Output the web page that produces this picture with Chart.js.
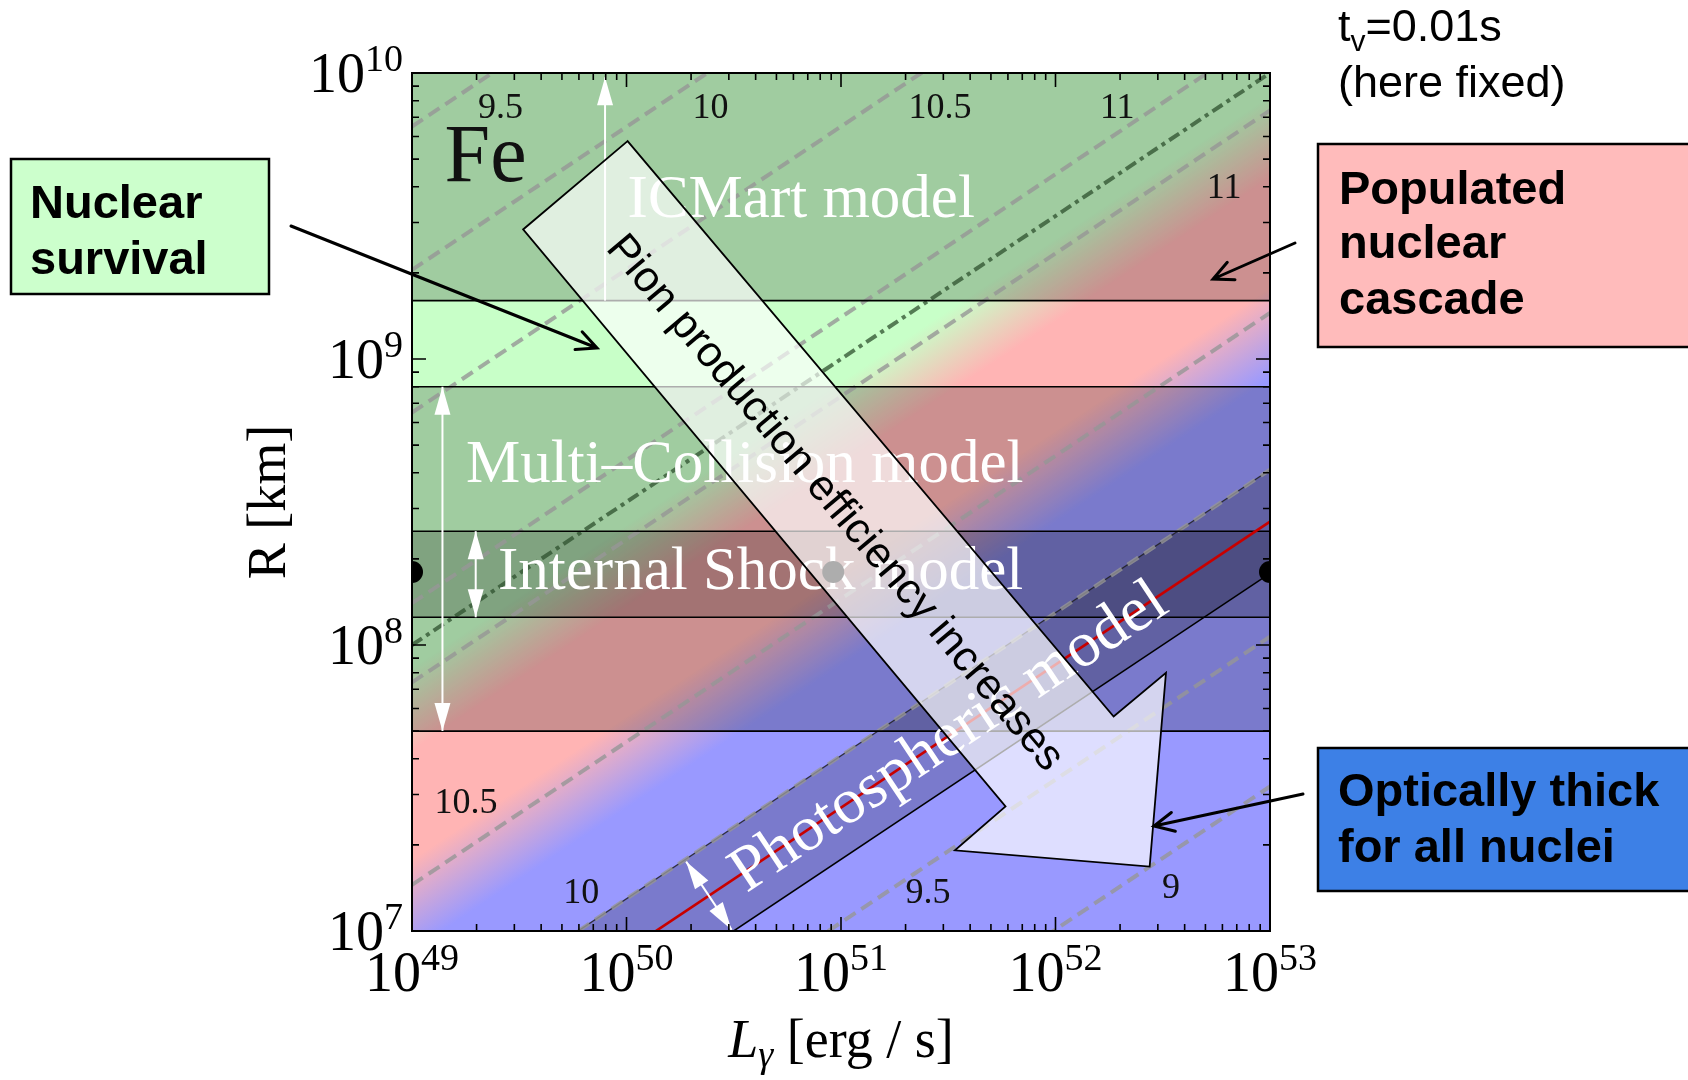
<!DOCTYPE html>
<html>
<head>
<meta charset="utf-8">
<title>Fe: nuclear survival vs. nuclear cascade</title>
<script src="https://cdn.jsdelivr.net/npm/chart.js@4.4.1/dist/chart.umd.min.js"></script>
<style>
  html, body { margin: 0; padding: 0; background: #ffffff; }
  canvas { display: block; }
</style>
</head>
<body>
<canvas id="radiusLuminosityChart" width="1688" height="1080"></canvas>
<script>
// Axes: luminosity L [erg/s] and radius R [km], both log
const luminosityRange = [1e49, 1e53];
const radiusRange = [1e7, 1e10];
const xTickExponents = [49, 50, 51, 52, 53];
const yTickExponents = [7, 8, 9, 10];

// dashed contours of log10(E_max); R where each meets L = 1e49 and L = 1e53
const contourLevels = ['9.5', '10', '10.5', '11', '11', '10.5', '10', '9.5', '9'];
const contourR49 = [6.5e9, 2.05e9, 6.5e8, 1.4e8, 7.4e7, 1.45e7, 4.1e6, 1.07e6, 3.2e5];
const contourR53 = [6.5e11, 2.05e11, 6.5e10, 1.4e10, 7.4e9, 1.45e9, 4.1e8, 1.07e8, 3.2e7];
// dash-dotted line (maximum)
const peakR = [1.0e8, 1.0e10];

// model regions in R: ICMart, Multi-Collision, Internal Shock
const modelBandLow = [1.6e9, 5e7, 1.25e8];
const modelBandHigh = [1e10, 8e8, 2.5e8];
const boundaryRadii = [5e7, 1.25e8, 2.5e8, 8e8, 1.6e9];

// photospheric band, R at L = 1e49 and 1e53
const photoUpperR = [4.1e6, 4.1e8];
const photoCenterR = [2.7e6, 2.7e8];
const photoLowerR = [1.78e6, 1.78e8];

// black markers
const markerL = [1e49, 9.2e50, 1e53];
const markerR = [1.8e8, 1.8e8, 1.8e8];

// colour of the regions (log10 R of the boundary line at L = 1e49, lines run as R ~ L^0.5)
const regionStops = [[7.92, 'rgb(200,255,200)'], [7.63, 'rgb(255,180,180)'], [7.25, 'rgb(255,180,180)'], [6.93, 'rgb(153,153,255)']];

// ---- annotation layout, in log10 L / log10 R ----
const contourTextSpots = [[49.413, 9.877], [50.392, 9.877], [51.461, 9.877], [52.288, 9.877],
  [52.786, 9.596], [49.252, 7.444], [49.789, 7.131], [51.406, 7.131], [52.538, 7.15]];
const modelLabels = [
  { text: 'ICMart model', l: 50.005, r: 9.552 },
  { text: 'Multi\u2013Collision model', l: 49.252, r: 8.626 },
  { text: 'Internal Shock model', l: 49.401, r: 8.252 }
];
const pionArrow = [[50.005, 9.762], [49.518, 9.453], [51.767, 7.436], [51.531, 7.282],
  [52.439, 7.225], [52.515, 7.903], [52.271, 7.750]];

// notes outside the plot, canvas pixels
const notes = [
  { lines: ['Nuclear', 'survival'], box: [11, 159, 258, 135], fill: '#ccffcc', tx: 30, base: [218, 274], arrow: [291, 226, 597, 348] },
  { lines: ['Populated', 'nuclear', 'cascade'], box: [1318, 144, 400, 203], fill: '#ffbbbb', tx: 1339, base: [204, 258, 314], arrow: [1295, 243, 1213, 279] },
  { lines: ['Optically thick', 'for all nuclei'], box: [1318, 748, 400, 143], fill: '#3d80e6', tx: 1338, base: [806, 862], arrow: [1303, 794, 1154, 826] }
];

const SERIF = '"Liberation Serif", "DejaVu Serif", serif';
const SANS = '"Liberation Sans", Arial, sans-serif';

const X = (chart, v) => chart.scales.x.getPixelForValue(v);
const Y = (chart, v) => chart.scales.y.getPixelForValue(v);
const XL = (chart, e) => X(chart, Math.pow(10, e));
const YL = (chart, e) => Y(chart, Math.pow(10, e));

function lineData(r49, r53) {
  return [{ x: luminosityRange[0], y: r49 }, { x: luminosityRange[1], y: r53 }];
}

function drawRegions(chart) {
  const { ctx, chartArea: a } = chart;
  const x49 = X(chart, 1e49);
  const s = (Y(chart, 1e8) - Y(chart, 1e9)) / (X(chart, 1e51) - X(chart, 1e49));
  const cOf = k => YL(chart, k) + s * x49;
  const kTop = regionStops[0][0], kBot = regionStops[regionStops.length - 1][0];
  const c0 = cOf(kTop), c1 = cOf(kBot), n = s * s + 1;
  const g = ctx.createLinearGradient(s * c0 / n, c0 / n, s * c1 / n, c1 / n);
  regionStops.forEach(([k, col]) => g.addColorStop((kTop - k) / (kTop - kBot), col));
  ctx.save();
  ctx.beginPath(); ctx.rect(a.left, a.top, a.width, a.height); ctx.clip();
  ctx.fillStyle = g;
  ctx.fillRect(a.left, a.top, a.width, a.height);
  ctx.fillStyle = 'rgba(0,0,0,0.2)';
  modelBandLow.forEach((lo, i) => {
    const yt = Y(chart, modelBandHigh[i]), yb = Y(chart, lo);
    ctx.fillRect(a.left, yt, a.width, yb - yt);
  });
  ctx.restore();
}

function arrowHead(ctx, xf, yf, xt, yt, len, half) {
  const ang = Math.atan2(yt - yf, xt - xf);
  const bx = xt - len * Math.cos(ang), by = yt - len * Math.sin(ang);
  ctx.beginPath();
  ctx.moveTo(xt, yt);
  ctx.lineTo(bx + half * Math.sin(ang), by - half * Math.cos(ang));
  ctx.lineTo(bx - half * Math.sin(ang), by + half * Math.cos(ang));
  ctx.closePath();
  ctx.fill();
}

function whiteArrow(ctx, x1, y1, x2, y2, both) {
  ctx.strokeStyle = '#ffffff'; ctx.fillStyle = '#ffffff'; ctx.lineWidth = 2;
  ctx.beginPath(); ctx.moveTo(x1, y1); ctx.lineTo(x2, y2); ctx.stroke();
  arrowHead(ctx, x1, y1, x2, y2, 28, 8);
  if (both) arrowHead(ctx, x2, y2, x1, y1, 28, 8);
}

function drawInnerLabels(chart) {
  const { ctx, chartArea: a } = chart;
  ctx.save();
  ctx.beginPath(); ctx.rect(a.left, a.top, a.width, a.height); ctx.clip();

  // contour level labels
  ctx.fillStyle = '#111'; ctx.font = '36px ' + SERIF;
  ctx.textAlign = 'center'; ctx.textBaseline = 'middle';
  contourLevels.forEach((t, i) => ctx.fillText(t, XL(chart, contourTextSpots[i][0]), YL(chart, contourTextSpots[i][1])));

  ctx.textAlign = 'left';
  ctx.font = '82px ' + SERIF;
  ctx.fillText('Fe', XL(chart, 49.152), YL(chart, 9.699));

  // white model names
  ctx.fillStyle = '#ffffff'; ctx.font = '61px ' + SERIF;
  modelLabels.forEach(m => ctx.fillText(m.text, XL(chart, m.l), YL(chart, m.r)));

  // photospheric label along the band
  const x49 = X(chart, 1e49), x53 = X(chart, 1e53);
  const y49 = Y(chart, photoCenterR[0]), y53 = Y(chart, photoCenterR[1]);
  const ang = Math.atan2(y53 - y49, x53 - x49);
  const lx = XL(chart, 51.5), t = (lx - x49) / (x53 - x49);
  ctx.save();
  ctx.translate(lx, y49 + t * (y53 - y49));
  ctx.rotate(ang);
  ctx.textAlign = 'center'; ctx.font = '64px ' + SERIF;
  ctx.fillText('Photospheric model', 0, 2);
  ctx.restore();

  // white range arrows
  whiteArrow(ctx, XL(chart, 49.9), Y(chart, 1.6e9), XL(chart, 49.9), YL(chart, 9.985), false);
  whiteArrow(ctx, XL(chart, 49.142), Y(chart, 8e8), XL(chart, 49.142), Y(chart, 5e7), true);
  whiteArrow(ctx, XL(chart, 49.297), Y(chart, 2.5e8), XL(chart, 49.297), Y(chart, 1.25e8), true);
  const ax = XL(chart, 50.384), at = (ax - x49) / (x53 - x49), ay = y49 + at * (y53 - y49);
  const nx = -Math.sin(ang), ny = Math.cos(ang);
  whiteArrow(ctx, ax - nx * 41, ay - ny * 41, ax + nx * 41, ay + ny * 41, true);
  ctx.restore();
}

function drawBigArrow(chart) {
  const { ctx } = chart;
  const pts = pionArrow.map(([l, r]) => [XL(chart, l), YL(chart, r)]);
  ctx.save();
  ctx.beginPath();
  pts.forEach(([x, y], i) => (i ? ctx.lineTo(x, y) : ctx.moveTo(x, y)));
  ctx.closePath();
  ctx.fillStyle = 'rgba(255,255,255,0.68)';
  ctx.fill();
  ctx.strokeStyle = '#000'; ctx.lineWidth = 1.8; ctx.lineJoin = 'miter';
  ctx.stroke();
  const tx = (pts[0][0] + pts[1][0]) / 2, ty = (pts[0][1] + pts[1][1]) / 2;
  const hx = (pts[2][0] + pts[6][0]) / 2, hy = (pts[2][1] + pts[6][1]) / 2;
  ctx.translate(XL(chart, 50.970), YL(chart, 8.4955));
  ctx.rotate(Math.atan2(hy - ty, hx - tx));
  ctx.fillStyle = '#000'; ctx.font = '43px ' + SANS;
  ctx.textAlign = 'center'; ctx.textBaseline = 'middle';
  ctx.fillText('Pion production efficiency increases', 0, 0);
  ctx.restore();
}

function drawPower(ctx, exp, x, y, align) {
  ctx.font = '56px ' + SERIF;
  const wb = ctx.measureText('10').width;
  ctx.font = '38px ' + SERIF;
  const ws = ctx.measureText(String(exp)).width;
  const x0 = align === 'center' ? x - (wb + ws) / 2 : x - (wb + ws);
  ctx.textAlign = 'left'; ctx.textBaseline = 'alphabetic';
  ctx.font = '56px ' + SERIF;
  ctx.fillText('10', x0, y + 18.5);
  ctx.font = '38px ' + SERIF;
  ctx.fillText(String(exp), x0 + wb, y - 2.5);
}

function drawFrame(chart) {
  const { ctx, chartArea: a } = chart;
  ctx.save();
  ctx.strokeStyle = '#000'; ctx.lineWidth = 1.6;
  ctx.beginPath();
  xTickExponents.forEach(d => {
    for (let m = 1; m <= 9; m++) {
      if (d === xTickExponents[xTickExponents.length - 1] && m > 1) break;
      const px = X(chart, m * Math.pow(10, d)), len = m === 1 ? 14 : 7;
      ctx.moveTo(px, a.bottom); ctx.lineTo(px, a.bottom - len);
      ctx.moveTo(px, a.top); ctx.lineTo(px, a.top + len);
    }
  });
  yTickExponents.forEach(d => {
    for (let m = 1; m <= 9; m++) {
      if (d === yTickExponents[yTickExponents.length - 1] && m > 1) break;
      const py = Y(chart, m * Math.pow(10, d)), len = m === 1 ? 14 : 7;
      ctx.moveTo(a.left, py); ctx.lineTo(a.left + len, py);
      ctx.moveTo(a.right, py); ctx.lineTo(a.right - len, py);
    }
  });
  ctx.stroke();
  ctx.lineWidth = 2;
  ctx.strokeRect(a.left, a.top, a.width, a.height);

  ctx.fillStyle = '#000';
  xTickExponents.forEach(d => drawPower(ctx, d, X(chart, Math.pow(10, d)), a.bottom + 41, 'center'));
  yTickExponents.forEach(d => drawPower(ctx, d, a.left - 9, Y(chart, Math.pow(10, d)), 'right'));

  // axis titles
  ctx.save();
  ctx.translate(285, (a.top + a.bottom) / 2);
  ctx.rotate(-Math.PI / 2);
  ctx.font = '54px ' + SERIF; ctx.textAlign = 'center'; ctx.textBaseline = 'alphabetic';
  ctx.fillText('R [km]', 0, 0);
  ctx.restore();

  const parts = [['L', 'italic 54px ' + SERIF, 0], ['\u03b3', 'italic 38px ' + SERIF, 10], [' [erg / s]', '54px ' + SERIF, 0]];
  let total = 0;
  parts.forEach(p => { ctx.font = p[1]; total += ctx.measureText(p[0]).width; });
  let cx = (a.left + a.right) / 2 - total / 2;
  ctx.textAlign = 'left';
  parts.forEach(p => { ctx.font = p[1]; ctx.fillText(p[0], cx, 1057 + p[2]); cx += ctx.measureText(p[0]).width; });
  ctx.restore();
}

function drawNotes(chart) {
  const { ctx } = chart;
  ctx.save();
  notes.forEach(nt => {
    const [bx, by, bw, bh] = nt.box;
    ctx.fillStyle = nt.fill; ctx.fillRect(bx, by, bw, bh);
    ctx.strokeStyle = '#000'; ctx.lineWidth = 2.5; ctx.strokeRect(bx, by, bw, bh);
    ctx.fillStyle = '#000'; ctx.font = 'bold 47px ' + SANS;
    ctx.textAlign = 'left'; ctx.textBaseline = 'alphabetic';
    nt.lines.forEach((ln, i) => ctx.fillText(ln, nt.tx, nt.base[i]));
    const [x1, y1, x2, y2] = nt.arrow;
    ctx.lineWidth = 3; ctx.lineCap = 'round';
    ctx.beginPath(); ctx.moveTo(x1, y1); ctx.lineTo(x2, y2);
    const ang = Math.atan2(y2 - y1, x2 - x1);
    ctx.moveTo(x2 - 22 * Math.cos(ang - 0.45), y2 - 22 * Math.sin(ang - 0.45));
    ctx.lineTo(x2, y2);
    ctx.lineTo(x2 - 22 * Math.cos(ang + 0.45), y2 - 22 * Math.sin(ang + 0.45));
    ctx.stroke();
  });
  // variability time
  ctx.fillStyle = '#000'; ctx.textAlign = 'left'; ctx.textBaseline = 'alphabetic';
  let x = 1338;
  ctx.font = '45px ' + SANS; ctx.fillText('t', x, 41); x += ctx.measureText('t').width;
  ctx.font = '30px ' + SANS; ctx.fillText('v', x, 51); x += ctx.measureText('v').width;
  ctx.font = '45px ' + SANS; ctx.fillText('=0.01s', x, 41);
  ctx.fillText('(here fixed)', 1338, 97);
  ctx.restore();
}

const overlayPlugin = {
  id: 'overlay',
  beforeDraw(chart) {
    chart.ctx.save(); chart.ctx.fillStyle = '#fff';
    chart.ctx.fillRect(0, 0, chart.width, chart.height); chart.ctx.restore();
  },
  beforeDatasetsDraw(chart) { drawRegions(chart); },
  // the labels go just under the black markers
  beforeDatasetDraw(chart, args) {
    if (args.meta.label === 'markers') drawInnerLabels(chart);
  },
  afterDatasetsDraw(chart) { drawBigArrow(chart); },
  afterDraw(chart) { drawFrame(chart); drawNotes(chart); }
};

const datasets = [];
contourR49.forEach((r, i) => datasets.push({
  label: 'log E = ' + contourLevels[i], data: lineData(r, contourR53[i]),
  borderColor: 'rgba(150,150,150,0.8)', borderWidth: 4, borderDash: [13, 7],
  pointRadius: 0, order: 5, clip: 0
}));
datasets.push({
  label: 'maximum', data: lineData(peakR[0], peakR[1]),
  borderColor: 'rgba(45,80,45,0.75)', borderWidth: 4, borderDash: [12, 5, 4, 5],
  pointRadius: 0, order: 5, clip: 0
});
datasets.push({
  label: 'photosphere upper', data: lineData(photoUpperR[0], photoUpperR[1]),
  borderColor: 'rgba(30,30,30,0.85)', borderWidth: 1.3, pointRadius: 0, order: 6, clip: 0
});
datasets.push({
  label: 'photosphere lower', data: lineData(photoLowerR[0], photoLowerR[1]),
  borderColor: '#000', borderWidth: 1.6, pointRadius: 0, order: 6, clip: 0,
  fill: '-1', backgroundColor: 'rgba(0,0,0,0.2)'
});
boundaryRadii.forEach(r => datasets.push({
  label: 'R = ' + r, data: lineData(r, r),
  borderColor: '#000', borderWidth: 1.6, pointRadius: 0, order: 3, clip: 0
}));
datasets.push({
  label: 'photosphere', data: lineData(photoCenterR[0], photoCenterR[1]),
  borderColor: '#c80000', borderWidth: 2.6, pointRadius: 0, order: 2, clip: 0
});
datasets.push({
  label: 'markers', data: markerL.map((l, i) => ({ x: l, y: markerR[i] })),
  showLine: false, pointRadius: 11, pointBackgroundColor: '#000', pointBorderWidth: 0,
  order: 1, clip: 0
});

Chart.defaults.font.family = SERIF;
new Chart(document.getElementById('radiusLuminosityChart'), {
  type: 'line',
  data: { datasets: datasets },
  options: {
    responsive: false,
    animation: false,
    devicePixelRatio: 1,
    events: [],
    layout: { padding: { left: 412, right: 418, top: 73, bottom: 149 } },
    plugins: { legend: { display: false }, tooltip: { enabled: false } },
    scales: {
      x: { type: 'logarithmic', min: luminosityRange[0], max: luminosityRange[1], display: false },
      y: { type: 'logarithmic', min: radiusRange[0], max: radiusRange[1], display: false }
    }
  },
  plugins: [overlayPlugin]
});
</script>
</body>
</html>
